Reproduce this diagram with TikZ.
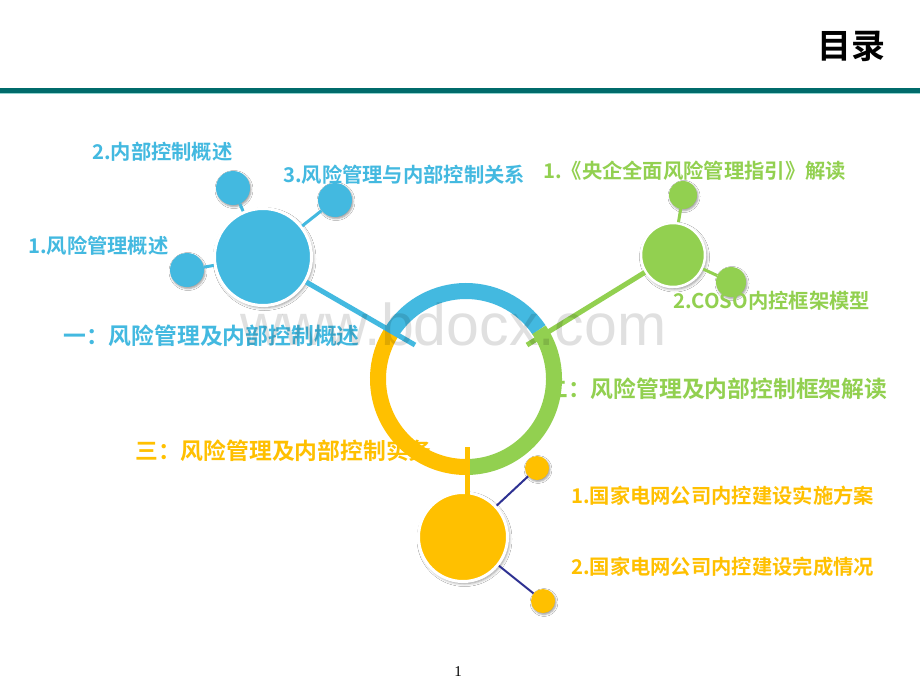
\documentclass[tikz,border=0pt]{standalone}
\usepackage{fontspec}
\setmainfont{Noto Sans CJK SC}[BoldFont={Noto Sans CJK SC Bold}]
\newfontfamily\wmfont{Liberation Sans}
\newfontfamily\numfont{Liberation Serif}
\usetikzlibrary{shadows.blur}
\definecolor{cblue}{HTML}{43B9E0}
\definecolor{cgreen}{HTML}{92D050}
\definecolor{cyellow}{HTML}{FFC000}
\definecolor{cnavy}{HTML}{2E3192}
\definecolor{tealdark}{HTML}{006B6B}
\definecolor{teallight}{HTML}{92D4D0}
\tikzset{
  bigdot/.style={circle, draw=white, inner sep=0pt,
    blur shadow={shadow xshift=1.5pt, shadow yshift=-2pt, shadow blur radius=3pt, shadow opacity=45}},
  smalldot/.style={circle, inner sep=0pt, draw=none,
    blur shadow={shadow xshift=1pt, shadow yshift=-1.5pt, shadow blur radius=2pt, shadow opacity=40}},
  ringarc/.style={line width=16pt},
  link/.style={line width=3pt},
  longline/.style={line width=5pt},
  navylink/.style={cnavy, line width=2pt},
  txt/.style={inner sep=0pt, anchor=west, font=\bfseries\fontsize{20.3}{22}\selectfont},
  sect/.style={inner sep=0pt, anchor=west, font=\bfseries\fontsize{22.8}{24}\selectfont},
}
\begin{document}
\begin{tikzpicture}[x=1pt,y=-1pt]
\fill[white] (0,0) rectangle (920,690);
\useasboundingbox (0,0) rectangle (920,690);

% header
\node[inner sep=0pt, font=\bfseries\fontsize{34}{36}\selectfont] (title) at (851,46) {目录};
\coordinate (hl) at (0,90.5);
\coordinate (hr) at (920,90.5);
\draw[tealdark, line width=4.6pt] (hl) -- (hr);
\coordinate (hl2) at (0,93.4);
\coordinate (hr2) at (920,93.4);
\draw[teallight, line width=1.4pt] (hl2) -- (hr2);

% section titles (under the ring)
\node[sect, cblue] (s1) at (63,336) {一：风险管理及内部控制概述};
\node[sect, cgreen] (s2) at (545,389) {二：风险管理及内部控制框架解读};
\node[sect, cyellow] (s3) at (135,451) {三：风险管理及内部控制实务};

% ring
\coordinate (rc) at (466,379);
\draw[ringarc, cblue] ([shift={(34:88pt)}]rc) arc[start angle=34, end angle=148, radius=88pt];
\draw[ringarc, cgreen] ([shift={(34:88pt)}]rc) arc[start angle=34, end angle=-90, radius=88pt];
\draw[ringarc, cyellow] ([shift={(148:88pt)}]rc) arc[start angle=148, end angle=270, radius=88pt];

% blue group
\node[bigdot, fill=cblue, line width=3pt, minimum size=97pt] (B0) at (263,257) {};
\node[smalldot, fill=cblue, minimum size=34pt] (B1) at (187,270) {};
\node[smalldot, fill=cblue, minimum size=34pt] (B2) at (233,188) {};
\node[smalldot, fill=cblue, minimum size=34pt] (B3) at (335,200) {};
\draw[link, cblue] (B0) -- (B1);
\draw[link, cblue] (B0) -- (B2);
\draw[link, cblue] (B0) -- (B3);
\coordinate (bend) at (415,345);
\draw[longline, cblue] (B0) -- (bend);

% green group
\node[bigdot, fill=cgreen, line width=2.5pt, minimum size=64pt] (G0) at (673,255) {};
\node[smalldot, fill=cgreen, minimum size=28pt] (G1) at (683,195) {};
\node[smalldot, fill=cgreen, minimum size=30pt] (G2) at (731,282) {};
\draw[link, cgreen] (G0) -- (G1);
\draw[link, cgreen] (G0) -- (G2);
\coordinate (gend) at (527,345);
\draw[longline, cgreen] (G0) -- (gend);

% yellow group
\node[bigdot, fill=cyellow, line width=3pt, minimum size=89pt] (Y0) at (463,537) {};
\node[smalldot, fill=cyellow, minimum size=24pt] (Y1) at (537,468) {};
\node[smalldot, fill=cyellow, minimum size=24pt] (Y2) at (543,601) {};
\draw[navylink] (Y0) -- (Y1);
\draw[navylink] (Y0) -- (Y2);
\coordinate (ytop) at (467,447);
\coordinate (ybot) at (467,497);
\draw[longline, cyellow] (ytop) -- (ybot);

% sub items
\node[txt, cblue] (b1) at (92,152) {2.内部控制概述};
\node[txt, cblue] (b2) at (283,175) {3.风险管理与内部控制关系};
\node[txt, cblue] (b3) at (28,246) {1.风险管理概述};
\node[txt, cgreen] (g1) at (543,171) {1.《央企全面风险管理指引》解读};
\node[txt, cgreen] (g2) at (673,301) {2.COSO内控框架模型};
\node[txt, cyellow] (y1) at (571,496) {1.国家电网公司内控建设实施方案};
\node[txt, cyellow] (y2) at (571,567) {2.国家电网公司内控建设完成情况};

% page number
\node[inner sep=0pt, font=\numfont\fontsize{15}{16}\selectfont] (pg) at (458,672) {1};

% watermark
\node[inner sep=0pt, anchor=base west, text opacity=0.12, font=\wmfont\fontsize{59}{60}\selectfont] (wm) at (240,345) {www.bdocx.com};
\end{tikzpicture}
\end{document}
